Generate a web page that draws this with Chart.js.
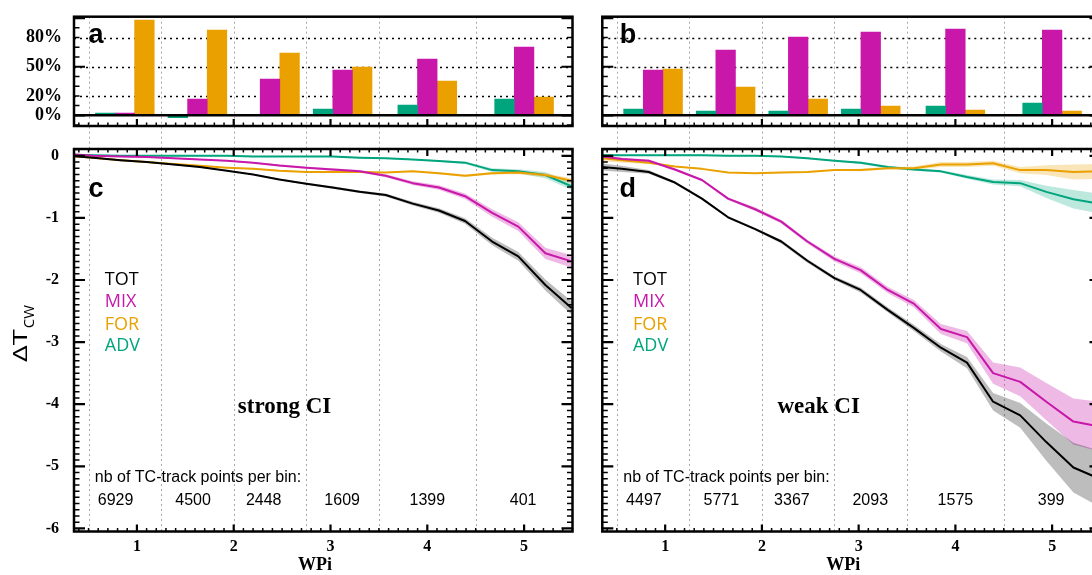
<!DOCTYPE html>
<html><head><meta charset="utf-8">
<script src="https://cdn.jsdelivr.net/npm/chart.js@4.4.1/dist/chart.umd.min.js"></script>
<style>
html,body{margin:0;padding:0;background:#fff;overflow:hidden;width:1092px;height:575px}
#wrap{position:relative;width:1092px;height:575px;overflow:hidden;background:#fff}
canvas{position:absolute}
</style></head><body>
<div id="wrap">
<canvas id="ca" width="590" height="150" style="left:0px;top:0px"></canvas>
<canvas id="cb" width="520" height="150" style="left:590px;top:0px"></canvas>
<canvas id="cc" width="590" height="455" style="left:0px;top:120px"></canvas>
<canvas id="cd" width="520" height="455" style="left:590px;top:120px"></canvas>
</div>
<script>
// ---------------- data ----------------
const binEdges   = [0.5, 1.25, 2, 2.75, 3.5, 4.5];
const binCenters = [0.875, 1.625, 2.375, 3.125, 4.0, 5.0];
const wpiTicks   = [1, 2, 3, 4, 5];
const pctTicks   = [0, 20, 50, 80];
const pctGrid    = [20, 50, 80];
const dTicks     = [-6, -5, -4, -3, -2, -1, 0];
const seriesNames = ['TOT', 'MIX', 'FOR', 'ADV'];

// panel a (strong CI) share of cooling, %
const advPctStrong = [2.4, -2.4, 0, 6.5, 10.6, 16.8];
const mixPctStrong = [2.4, 16.8, 37.4, 46.6, 57.9, 70.3];
const forPctStrong = [98.1, 87.8, 64.1, 49.7, 35.3, 18.8];
// panel b (weak CI)
const advPctWeak = [6.5, 4.4, 4.4, 6.5, 9.6, 12.7];
const mixPctWeak = [46.6, 67.2, 80.6, 85.7, 88.8, 87.8];
const forPctWeak = [47.7, 29.1, 16.8, 9.6, 5.5, 4.4];

// WPi sample positions for the curves
const wpiX = [0.28, 0.55, 0.83, 1.10, 1.38, 1.65, 1.93, 2.20, 2.47, 2.75, 3.02, 3.30, 3.57, 3.85, 4.12, 4.39, 4.67, 4.94, 5.22, 5.49];

// panel c (strong CI) delta T_CW
const totStrong = [0.0, -0.03, -0.07, -0.10, -0.14, -0.18, -0.24, -0.30, -0.38, -0.45, -0.51, -0.58, -0.63, -0.77, -0.88, -1.05, -1.38, -1.62, -2.08, -2.45];
const mixStrong = [0.03, 0.0, -0.01, -0.02, -0.04, -0.06, -0.08, -0.11, -0.155, -0.19, -0.22, -0.25, -0.32, -0.44, -0.51, -0.65, -0.92, -1.14, -1.57, -1.70];
const forStrong = [0.0, -0.03, -0.07, -0.10, -0.13, -0.16, -0.19, -0.21, -0.24, -0.26, -0.26, -0.26, -0.27, -0.25, -0.28, -0.32, -0.28, -0.27, -0.31, -0.40];
const advStrong = [0.02, 0.01, 0.0, 0.0, 0.0, 0.0, 0.0, -0.01, -0.01, -0.01, -0.01, -0.03, -0.04, -0.06, -0.085, -0.11, -0.23, -0.25, -0.31, -0.49];
const totStrongErr = [0.01, 0.01, 0.01, 0.01, 0.01, 0.01, 0.01, 0.01, 0.015, 0.015, 0.02, 0.02, 0.025, 0.03, 0.035, 0.045, 0.06, 0.07, 0.09, 0.11];
const mixStrongErr = [0.01, 0.01, 0.01, 0.01, 0.01, 0.01, 0.01, 0.01, 0.015, 0.015, 0.02, 0.02, 0.025, 0.03, 0.035, 0.045, 0.06, 0.07, 0.09, 0.10];
const forStrongErr = [0.01, 0.01, 0.01, 0.01, 0.01, 0.01, 0.01, 0.01, 0.01, 0.01, 0.01, 0.01, 0.01, 0.01, 0.015, 0.02, 0.02, 0.025, 0.03, 0.04];
const advStrongErr = [0.01, 0.01, 0.01, 0.01, 0.01, 0.01, 0.01, 0.01, 0.01, 0.01, 0.01, 0.01, 0.01, 0.01, 0.015, 0.02, 0.03, 0.035, 0.05, 0.06];

// panel d (weak CI)
const totWeak = [-0.17, -0.21, -0.26, -0.43, -0.69, -0.99, -1.18, -1.38, -1.69, -1.97, -2.16, -2.48, -2.77, -3.09, -3.33, -3.96, -4.18, -4.61, -5.02, -5.20];
const mixWeak = [0.0, -0.05, -0.08, -0.22, -0.39, -0.69, -0.86, -1.06, -1.38, -1.66, -1.84, -2.16, -2.38, -2.79, -2.92, -3.50, -3.64, -3.96, -4.28, -4.36];
const forWeak = [-0.03, -0.07, -0.11, -0.17, -0.21, -0.27, -0.28, -0.27, -0.26, -0.23, -0.23, -0.20, -0.20, -0.14, -0.14, -0.12, -0.23, -0.23, -0.26, -0.25];
const advWeak = [0.01, 0.01, 0.01, 0.01, 0.01, 0.0, 0.0, -0.01, -0.04, -0.08, -0.11, -0.18, -0.22, -0.25, -0.34, -0.42, -0.44, -0.58, -0.70, -0.77];
const totWeakErr = [0.06, 0.05, 0.03, 0.02, 0.02, 0.02, 0.02, 0.03, 0.03, 0.03, 0.04, 0.04, 0.05, 0.06, 0.09, 0.14, 0.20, 0.30, 0.40, 0.45];
const mixWeakErr = [0.03, 0.02, 0.02, 0.02, 0.02, 0.02, 0.03, 0.03, 0.03, 0.04, 0.05, 0.05, 0.06, 0.08, 0.10, 0.17, 0.23, 0.30, 0.37, 0.40];
const forWeakErr = [0.05, 0.04, 0.02, 0.01, 0.01, 0.01, 0.01, 0.01, 0.01, 0.01, 0.02, 0.02, 0.03, 0.04, 0.04, 0.04, 0.05, 0.08, 0.12, 0.12];
const advWeakErr = [0.01, 0.01, 0.01, 0.01, 0.01, 0.01, 0.01, 0.01, 0.01, 0.01, 0.02, 0.02, 0.02, 0.02, 0.03, 0.04, 0.05, 0.10, 0.15, 0.16];

const countsStrong = ['6929', '4500', '2448', '1609', '1399', '401'];
const countsWeak   = ['4497', '5771', '3367', '2093', '1575', '399'];

// ---------------- styles / layout ----------------
const COLORS = {TOT:'#000000', MIX:'#c817a9', FOR:'#eaa100', ADV:'#00a57d'};
const BAND   = {TOT:'rgba(0,0,0,0.26)', MIX:'rgba(200,23,169,0.30)', FOR:'rgba(234,161,0,0.28)', ADV:'rgba(0,165,125,0.26)'};
const SERIF = 'Liberation Serif';
const SANS = 'Open Sans';
const X_RANGE = {min:0.35, max:5.5};
const Y_RANGE = {min:-6.05, max:0.11};
const P_RANGE = {min:-11, max:101.5};
const POS = {
  letterY_bar: 74.2, letterY_line: -0.664,
  legendY: [-2.081, -2.430, -2.806, -3.139],
  nbY: -5.258, countX: [0.78, 1.58, 2.31, 3.12, 4.0, 4.99], countY: -5.629,
  ciY: -4.147, titleX: 2.84, titleY: -6.671, ylabX: -0.139, ylabY: -3.321
};

// ---------------- helpers ----------------
function linePts(vals, off, sgn){ return vals.map((v,i)=>({x: wpiX[i], y: v + sgn*(off ? off[i] : 0)})); }

function lineDatasets(list){
  const ds = [];
  list.forEach(s => ds.push({label:s.name, data: linePts(s.vals, null, 0), borderColor: COLORS[s.name],
    borderWidth: 2, pointRadius: 0, fill: false, order: 0, tension: 0, borderJoinStyle:'round'}));
  list.forEach(s => {
    ds.push({label:s.name+' hi', data: linePts(s.vals, s.err, 1), borderWidth: 0, borderColor:'transparent', pointRadius:0, fill:false, order:1, tension:0});
    ds.push({label:s.name+' lo', data: linePts(s.vals, s.err, -1), borderWidth: 0, borderColor:'transparent', pointRadius:0, fill:'-1', backgroundColor: BAND[s.name], order:1, tension:0});
  });
  return ds;
}
function barDatasets(adv, mix, frc){
  return [['ADV', adv], ['MIX', mix], ['FOR', frc]].map(([n, arr]) => ({
    label: n, data: arr.map((v,i)=>({x: binCenters[i], y: v})), backgroundColor: COLORS[n],
    borderWidth: 0, barThickness: 19.6
  }));
}

function drawTicks(ctx, a, xs, ys, bars){
  ctx.setLineDash([]); ctx.strokeStyle = '#000'; ctx.lineCap = 'butt';
  for (let k = 4; k <= 55; k++){
    const v = k/10; if (v < xs.min || v > xs.max) continue;
    const p = xs.getPixelForValue(v); const maj = k % 10 === 0; const L = maj ? 7 : 3.5;
    ctx.lineWidth = maj ? 2.2 : 1.5; ctx.beginPath();
    ctx.moveTo(p, a.bottom); ctx.lineTo(p, a.bottom - L);
    if (!bars){ ctx.moveTo(p, a.top); ctx.lineTo(p, a.top + L); }
    ctx.stroke();
  }
  const yv = [];
  if (bars){ for (let k = -1; k <= 10; k++) yv.push([k*10, k % 5 === 0]); }
  else { for (let k = -60; k <= 1; k++) yv.push([k/10, k % 10 === 0]); }
  yv.forEach(([v, maj]) => {
    const p = ys.getPixelForValue(v); const L = maj ? 11 : 5.5;
    ctx.lineWidth = maj ? 2.2 : 1.5; ctx.beginPath();
    ctx.moveTo(a.left, p); ctx.lineTo(a.left + L, p);
    ctx.moveTo(a.right, p); ctx.lineTo(a.right - L, p);
    ctx.stroke();
  });
}

function makeDeco(cfg){
  return {
    id: 'deco' + cfg.id,
    beforeDatasetsDraw(chart){
      const {ctx, chartArea:a} = chart; const xs = chart.scales.x, ys = chart.scales.y;
      ctx.save();
      ctx.setLineDash([2,3]); ctx.strokeStyle = '#a8a8a8'; ctx.lineWidth = 1;
      binEdges.forEach(v => { const p = Math.round(xs.getPixelForValue(v)) + 0.5;
        ctx.beginPath(); ctx.moveTo(p, a.top); ctx.lineTo(p, cfg.bars ? chart.height : a.bottom); ctx.stroke(); });
      if (cfg.bars){
        ctx.setLineDash([2,4]); ctx.strokeStyle = '#000'; ctx.lineWidth = 1.5;
        pctGrid.forEach(v => { const p = Math.round(ys.getPixelForValue(v)) + 0.5;
          ctx.beginPath(); ctx.moveTo(a.left, p); ctx.lineTo(a.right, p); ctx.stroke(); });
      }
      ctx.restore();
    },
    afterDatasetsDraw(chart){
      if (!cfg.bars) return;
      const {ctx, chartArea:a} = chart; const p = chart.scales.y.getPixelForValue(0);
      ctx.save(); ctx.setLineDash([]); ctx.strokeStyle = '#000'; ctx.lineWidth = 2.5;
      ctx.beginPath(); ctx.moveTo(a.left, p); ctx.lineTo(a.right, p); ctx.stroke(); ctx.restore();
    },
    afterDraw(chart){
      const {ctx, chartArea:a} = chart; const xs = chart.scales.x, ys = chart.scales.y;
      ctx.save();
      drawTicks(ctx, a, xs, ys, cfg.bars);
      ctx.setLineDash([]); ctx.lineWidth = 2.5; ctx.strokeStyle = '#000';
      ctx.strokeRect(a.left, a.top, a.right - a.left, a.bottom - a.top);
      (cfg.texts || []).forEach(t => {
        ctx.font = t.font; ctx.fillStyle = t.color || '#000';
        ctx.textAlign = t.align || 'left'; ctx.textBaseline = 'alphabetic';
        ctx.fillText(t.text, xs.getPixelForValue(t.x), ys.getPixelForValue(t.y));
      });
      if (cfg.ylabel){
        const px = xs.getPixelForValue(POS.ylabX), py = ys.getPixelForValue(POS.ylabY);
        ctx.translate(px, py); ctx.rotate(-Math.PI/2);
        ctx.fillStyle = '#000'; ctx.textAlign = 'left'; ctx.textBaseline = 'alphabetic';
        ctx.save(); ctx.scale(1.45, 1);
        ctx.font = '20px "' + SANS + '"'; ctx.fillText('ΔT', 0, 0);
        const w = ctx.measureText('ΔT').width * 1.45;
        ctx.restore();
        ctx.font = '15px "' + SANS + '"'; ctx.fillText('CW', w + 1, 7);
      }
      ctx.restore();
    }
  };
}

function lineTexts(letter, letterX, ciText, ciX, counts, legendX, nbX){
  const t = [{text: letter, x: letterX, y: POS.letterY_line, font: 'bold 27px "Liberation Sans"'}];
  seriesNames.forEach((n,i) => t.push({text:n, x: legendX, y: POS.legendY[i], font: '18px "' + SANS + '"', color: COLORS[n]}));
  t.push({text: ciText, x: ciX, y: POS.ciY, font: 'bold 23px "' + SERIF + '"', align:'center'});
  t.push({text: 'nb of TC-track points per bin:', x: nbX, y: POS.nbY, font: '16px "Liberation Sans"'});
  counts.forEach((c,i) => t.push({text: c, x: POS.countX[i], y: POS.countY, font: '16px "Liberation Sans"', align:'center'}));
  t.push({text: 'WPi', x: POS.titleX, y: POS.titleY, font: 'bold 18px "' + SERIF + '"', align:'center'});
  return t;
}

const tickFont = {family: SERIF, weight: 'bold', size: 16};

function barChart(id, adv, mix, frc, left, texts, showY, padL, padR){
  const y = showY ? {
      min: P_RANGE.min, max: P_RANGE.max,
      afterBuildTicks: s => { s.ticks = pctTicks.map(v => ({value: v})); },
      afterFit: s => { s.width = 74; s.paddingTop = 0; s.paddingBottom = 0; },
      grid: {display:false, drawTicks:false}, border: {display:false},
      ticks: {callback: v => v + '%', font: {family: SERIF, weight:'bold', size: 18}, color:'#000', padding: 12}
    } : {display:false, min: P_RANGE.min, max: P_RANGE.max};
  return new Chart(document.getElementById(id), {
    type: 'bar',
    data: {datasets: barDatasets(adv, mix, frc)},
    options: {
      responsive:false, animation:false, devicePixelRatio:1,
      layout: {padding: {left: padL, top: 16.7, right: padR, bottom: 24}},
      plugins: {legend:{display:false}, tooltip:{enabled:false}},
      scales: {
        x: {type:'linear', min: X_RANGE.min, max: X_RANGE.max, offset:false, display:false, grid:{offset:false}},
        y: y
      }
    },
    plugins: [makeDeco({id: id, bars: true, texts: texts})]
  });
}

function lineChart(id, list, texts, showY, padL, padR){
  const y = showY ? {
      min: Y_RANGE.min, max: Y_RANGE.max,
      afterBuildTicks: s => { s.ticks = dTicks.map(v => ({value: v})); },
      afterFit: s => { s.width = 74; s.paddingTop = 0; s.paddingBottom = 0; },
      grid: {display:false, drawTicks:false}, border: {display:false},
      ticks: {callback: v => String(v), font: tickFont, color:'#000', padding: 15}
    } : {display:false, min: Y_RANGE.min, max: Y_RANGE.max};
  return new Chart(document.getElementById(id), {
    type: 'line',
    data: {datasets: lineDatasets(list)},
    options: {
      responsive:false, animation:false, devicePixelRatio:1,
      layout: {padding: {left: padL, top: 29, right: padR, bottom: 0}},
      plugins: {legend:{display:false}, tooltip:{enabled:false}},
      scales: {
        x: {type:'linear', min: X_RANGE.min, max: X_RANGE.max,
          afterBuildTicks: s => { s.ticks = wpiTicks.map(v => ({value: v})); },
          afterFit: s => { s.height = 43.5; s.paddingLeft = 0; s.paddingRight = 0; },
          grid: {display:false, drawTicks:false}, border: {display:false},
          ticks: {callback: v => String(v), font: tickFont, color:'#000', padding: 6, maxRotation:0}},
        y: y
      }
    },
    plugins: [makeDeco({id: id, bars: false, texts: texts, ylabel: showY})]
  });
}

barChart('ca', advPctStrong, mixPctStrong, forPctStrong, 0,
  [{text:'a', x:0.50, y:POS.letterY_bar, font:'bold 27px "Liberation Sans"'}], true, 0, 17.5);
barChart('cb', advPctWeak, mixPctWeak, forPctWeak, 590,
  [{text:'b', x:0.53, y:POS.letterY_bar, font:'bold 27px "Liberation Sans"'}], false, 12.3, 9.5);

lineChart('cc', [
  {name:'TOT', vals: totStrong, err: totStrongErr},
  {name:'MIX', vals: mixStrong, err: mixStrongErr},
  {name:'FOR', vals: forStrong, err: forStrongErr},
  {name:'ADV', vals: advStrong, err: advStrongErr}
], lineTexts('c', 0.50, 'strong CI', 2.525, countsStrong, 0.668, 0.565), true, 0, 17.5);

lineChart('cd', [
  {name:'TOT', vals: totWeak, err: totWeakErr},
  {name:'MIX', vals: mixWeak, err: mixWeakErr},
  {name:'FOR', vals: forWeak, err: forWeakErr},
  {name:'ADV', vals: advWeak, err: advWeakErr}
], lineTexts('d', 0.527, 'weak CI', 2.587, countsWeak, 0.667, 0.567), false, 12.3, 9.5);
</script>
</body></html>
